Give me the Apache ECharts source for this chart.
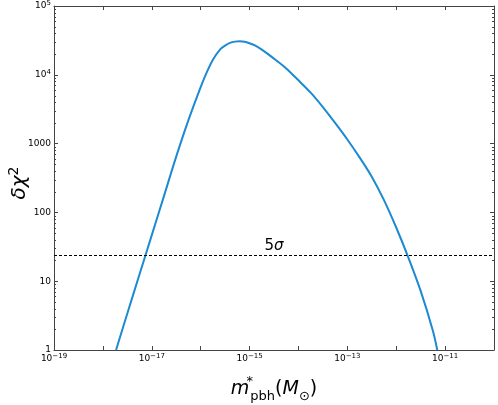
<!DOCTYPE html>
<html>
<head>
<meta charset="utf-8">
<script src="https://cdn.jsdelivr.net/npm/echarts@6/dist/echarts.min.js"></script>
<style>
  html, body { margin: 0; padding: 0; background: #fff; }
  #chart { width: 498px; height: 405px; }
</style>
</head>
<body>
<div id="chart"></div>
<script>
  // m*_pbh in solar masses and the delta chi^2
  var massPbh = [1.86e-18, 3.16e-18, 5.62e-18, 1.00e-17, 1.78e-17, 3.16e-17, 5.62e-17, 1.00e-16,
                 1.33e-16, 1.78e-16, 2.51e-16, 3.16e-16, 3.98e-16, 5.01e-16, 6.31e-16, 7.94e-16, 1.00e-15,
                 1.26e-15, 1.78e-15, 3.16e-15, 5.62e-15, 1.00e-14,
                 1.78e-14, 3.16e-14, 5.62e-14, 1.00e-13, 1.78e-13, 3.16e-13, 5.62e-13, 1.00e-12,
                 1.78e-12, 3.16e-12, 5.62e-12, 6.92e-12];
  var deltaChi2 = [1, 3.39, 12.6, 46.8, 174, 646, 2188, 6607,
                   10840, 16600, 23440, 26610, 29040, 30340, 30760, 30200, 28710,
                   26920, 23170, 17180, 12390, 8318,
                   5495, 3388, 1995, 1148, 631, 331, 151, 60.3,
                   21.9, 7.24, 1.91, 1];
  var sigma5Level = 24;
  var xTickLabels = ['10^-19', '10^-17', '10^-15', '10^-13', '10^-11'];
  var yTickLabels = ['1', '10', '100', '1000', '10^4', '10^5'];

  var FONT = 'DejaVu Sans';
  var FRAME = '#444';

  function texLabel(s) {
    var p = s.split('^');
    return p.length > 1 ? p[0] + '{sup|' + p[1].replace('-', '\u2212') + '}' : s;
  }
  function pickLabel(list, v) {
    var e = Math.round(Math.log10(v));
    for (var i = 0; i < list.length; i++) {
      var p = list[i].split('^');
      var le = p.length > 1 ? parseInt(p[1], 10) : Math.round(Math.log10(parseFloat(p[0])));
      if (le === e) return texLabel(list[i]);
    }
    return '';
  }

  var tickRich = { sup: { fontSize: 7, lineHeight: 7, verticalAlign: 'top', fontFamily: FONT, color: '#000' } };

  function logAxis(extra) {
    var a = {
      type: 'log',
      logBase: 10,
      interval: 1,
      nameMoveOverlap: false,
      splitLine: { show: false },
      axisLine: { show: true, lineStyle: { color: FRAME, width: 1 } },
      axisTick: { show: true, inside: true, length: 4, interval: 0, lineStyle: { color: FRAME } },
      axisLabel: { show: false }
    };
    for (var k in extra) a[k] = extra[k];
    return a;
  }

  var data = massPbh.map(function (m, i) { return [m, deltaChi2[i]]; });

  var chart = echarts.init(document.getElementById('chart'));
  chart.setOption({
    animation: false,
    textStyle: { fontFamily: FONT },
    grid: { left: 54, right: 4, top: 6, bottom: 55, outerBoundsMode: 'none', containLabel: false },
    xAxis: [
      logAxis({
        min: 1e-19, max: 1e-10, position: 'bottom',
        axisLabel: {
          show: true, interval: 0, margin: 3, fontSize: 9, lineHeight: 12, color: '#000', fontFamily: FONT,
          formatter: function (v) { return pickLabel(xTickLabels, v); },
          rich: tickRich
        },
        name: '{i|m}{st|*}{sb|pbh}{n|(}{i|M}{sb|\u2299}{n|)}',
        nameLocation: 'middle',
        nameGap: 25,
        nameTextStyle: {
          fontFamily: FONT, fontSize: 19, lineHeight: 28, color: '#000',
          rich: {
            i: { fontStyle: 'italic', fontSize: 19, lineHeight: 28, fontFamily: FONT, color: '#000' },
            n: { fontSize: 19, lineHeight: 28, fontFamily: FONT, color: '#000' },
            st: { fontSize: 13, lineHeight: 13, verticalAlign: 'top', width: 1, fontFamily: FONT, color: '#000' },
            sb: { fontSize: 13, lineHeight: 13, verticalAlign: 'bottom', fontFamily: FONT, color: '#000' }
          }
        }
      }),
      logAxis({ min: 1e-19, max: 1e-10, position: 'top' })
    ],
    yAxis: [
      logAxis({
        min: 1, max: 1e5, position: 'left',
        axisLabel: {
          show: true, margin: 3, fontSize: 9, lineHeight: 12, color: '#000', fontFamily: FONT,
          formatter: function (v) { return pickLabel(yTickLabels, v); },
          rich: tickRich
        },
        name: '{i|\u03b4\u03c7}{s|2}',
        nameLocation: 'middle',
        nameRotate: 90,
        nameGap: 21,
        nameTextStyle: {
          fontFamily: FONT, fontSize: 20, lineHeight: 26, color: '#000', padding: [0, 10, 0, 0],
          rich: {
            i: { fontStyle: 'italic', fontSize: 20, lineHeight: 26, fontFamily: FONT, color: '#000' },
            s: { fontSize: 14, lineHeight: 14, verticalAlign: 'top', fontFamily: FONT, color: '#000' }
          }
        }
      }),
      logAxis({ min: 1, max: 1e5, position: 'right' })
    ],
    series: [{
      type: 'line',
      data: data,
      xAxisIndex: 0,
      yAxisIndex: 0,
      showSymbol: false,
      smooth: 0.3,
      clip: true,
      lineStyle: { color: '#1b8ad3', width: 2 },
      markLine: {
        silent: true,
        symbol: 'none',
        lineStyle: { type: [3, 2], color: '#000', width: 1 },
        label: {
          show: true, position: 'middle', distance: 1,
          formatter: '{n|5}{g|\u03c3}',
          rich: {
            n: { fontSize: 15, fontFamily: FONT, color: '#000' },
            g: { fontSize: 15, fontStyle: 'italic', fontFamily: FONT, color: '#000' }
          }
        },
        data: [{ yAxis: sigma5Level }]
      }
    }]
  });

  // log minor ticks on the left and right frame (2..9 of every decade)
  var xl = chart.convertToPixel({ xAxisIndex: 0 }, 1e-19);
  var xr = chart.convertToPixel({ xAxisIndex: 0 }, 1e-10);
  var minor = [];
  for (var d = 0; d < 5; d++) {
    for (var k = 2; k <= 9; k++) {
      var py = Math.round(chart.convertToPixel({ yAxisIndex: 0 }, k * Math.pow(10, d))) + 0.5;
      minor.push({ type: 'line', silent: true, shape: { x1: xl, y1: py, x2: xl + 2, y2: py }, style: { stroke: FRAME, lineWidth: 1 } });
      minor.push({ type: 'line', silent: true, shape: { x1: xr - 2, y1: py, x2: xr, y2: py }, style: { stroke: FRAME, lineWidth: 1 } });
    }
  }
  chart.setOption({ graphic: minor });
</script>
</body>
</html>
